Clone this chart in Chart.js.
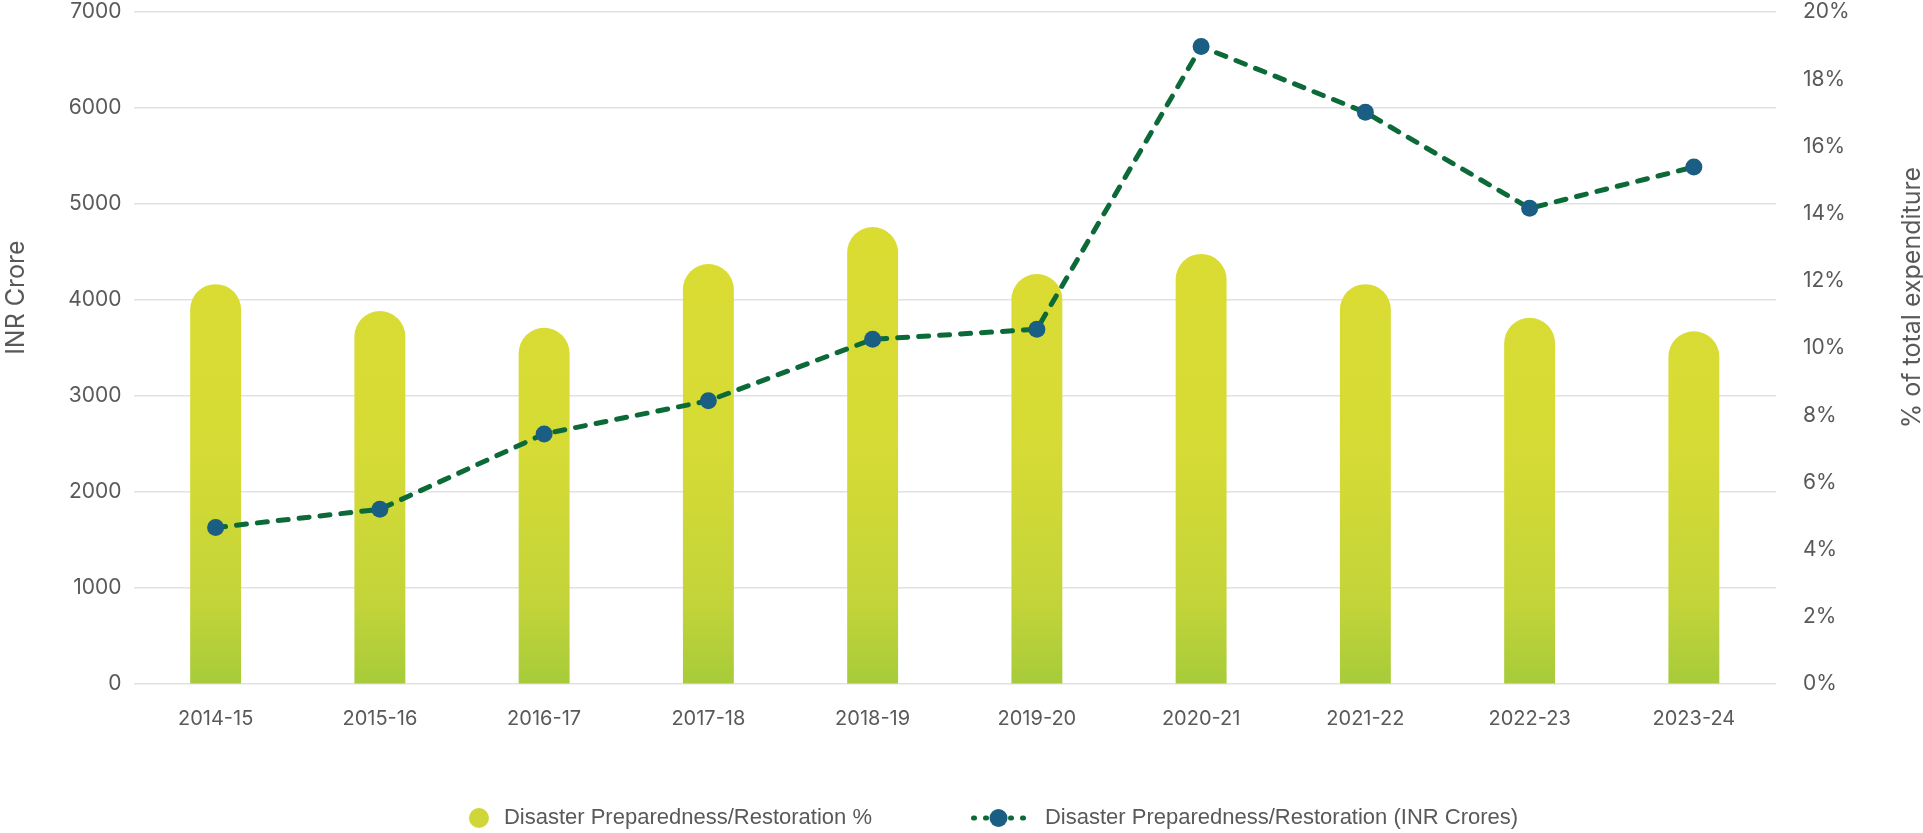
<!DOCTYPE html>
<html>
<head>
<meta charset="utf-8">
<title>Disaster Preparedness/Restoration</title>
<script src="https://cdn.jsdelivr.net/npm/chart.js@4.4.1/dist/chart.umd.min.js"></script>
<style>
  html, body { margin: 0; padding: 0; background: #ffffff; }
  #wrap { width: 1923px; height: 833px; position: relative; }
</style>
</head>
<body>
<div id="wrap"><canvas id="chart" width="1923" height="833"></canvas></div>
<script>
// Fiscal years on the category axis
const years = ['2014-15', '2015-16', '2016-17', '2017-18', '2018-19',
               '2019-20', '2020-21', '2021-22', '2022-23', '2023-24'];

// Share of total expenditure (%), drawn as bars on the right axis
const sharePct = [11.9, 11.1, 10.6, 12.5, 13.6, 12.2, 12.8, 11.9, 10.9, 10.5];

// Spending in INR crore, drawn as the dashed line on the left axis
const spendCrore = [1630, 1820, 2605, 2950, 3590, 3695, 6640, 5955, 4955, 5385];

// Axis ranges and tick steps
const croreAxis = { min: 0, max: 7000, step: 1000 };
const pctAxis = { min: 0, max: 20, step: 2 };

const seriesNames = ['Disaster Preparedness/Restoration %',
                     'Disaster Preparedness/Restoration (INR Crores)'];
const axisTitleLeft = 'INR Crore';
const axisTitleRight = '% of total expenditure';

const TEXT = '#595959';
const LINE_GREEN = '#0c6a39';
const DOT_BLUE = '#1b5e84';

// Vertical yellow-to-green fill shared by all bars
function barFill(context) {
  const chart = context.chart;
  const area = chart.chartArea;
  if (!area) return '#dcdc31';
  const g = chart.ctx.createLinearGradient(0, area.bottom, 0, area.top);
  g.addColorStop(0, '#a7cb3a');
  g.addColorStop(0.12, '#c3d439');
  g.addColorStop(0.35, '#d6db35');
  g.addColorStop(1, '#dfdd30');
  return g;
}

// Legend swatches painted on small canvases
const SWATCH_W = 152;
function makeSwatch(paint) {
  const c = document.createElement('canvas');
  c.width = SWATCH_W; c.height = 24;
  paint(c.getContext('2d'));
  return c;
}
const swatches = [
  makeSwatch(ctx => {
    ctx.fillStyle = '#cfd637';
    ctx.beginPath();
    ctx.arc(138, 12, 10, 0, Math.PI * 2);
    ctx.fill();
  }),
  makeSwatch(ctx => {
    ctx.strokeStyle = LINE_GREEN;
    ctx.lineWidth = 5;
    ctx.lineCap = 'round';
    [[91.5, 92.5], [103.5, 104.5], [128.5, 129.5], [140.5, 141.5]].forEach(([a, b]) => {
      ctx.beginPath(); ctx.moveTo(a, 12); ctx.lineTo(b, 12); ctx.stroke();
    });
    ctx.fillStyle = DOT_BLUE;
    ctx.beginPath();
    ctx.arc(116.5, 12, 9, 0, Math.PI * 2);
    ctx.fill();
  })
];

// Rotated axis titles placed beside each value axis
const axisTitles = {
  id: 'axisTitles',
  afterDraw(chart) {
    const { ctx, chartArea } = chart;
    const midY = chartArea.top + (chartArea.bottom - chartArea.top) * 0.425;
    ctx.save();
    ctx.font = '400 25px Inter';
    ctx.fillStyle = TEXT;
    ctx.textAlign = 'center';
    ctx.textBaseline = 'middle';
    [[16, axisTitleLeft], [chart.width - 11, axisTitleRight]].forEach(([x, t]) => {
      ctx.save();
      ctx.translate(x, midY);
      ctx.rotate(-Math.PI / 2);
      ctx.fillText(t, 0, 0);
      ctx.restore();
    });
    ctx.restore();
  }
};

// Slight offset of the legend row
const legendNudge = {
  id: 'legendNudge',
  afterLayout(chart) {
    const l = chart.legend;
    if (!l) return;
    l.left -= 32; l.right -= 32;
    l.top += 6; l.bottom += 6;
  }
};

const tickFont = { family: 'Inter', size: 20, weight: '400' };

// Value axes keep a fixed width and add no extra vertical padding
function fixVertical(width) {
  return scale => {
    scale.width = width;
    scale.paddingTop = 0;
    scale.paddingBottom = 0;
  };
}

new Chart(document.getElementById('chart'), {
  data: {
    labels: years,
    datasets: [
      {
        type: 'bar',
        label: seriesNames[0],
        data: sharePct,
        yAxisID: 'y1',
        backgroundColor: barFill,
        borderWidth: 0,
        borderRadius: { topLeft: 40, topRight: 40, bottomLeft: 0, bottomRight: 0 },
        borderSkipped: 'bottom',
        barPercentage: 0.31,
        categoryPercentage: 1,
        order: 2
      },
      {
        type: 'line',
        label: seriesNames[1],
        data: spendCrore,
        yAxisID: 'y',
        borderColor: LINE_GREEN,
        borderWidth: 5,
        borderDash: [10, 11],
        borderCapStyle: 'round',
        tension: 0,
        fill: false,
        pointRadius: 8.5,
        pointHoverRadius: 8.5,
        pointBackgroundColor: DOT_BLUE,
        pointBorderColor: DOT_BLUE,
        pointBorderWidth: 0,
        order: 1
      }
    ]
  },
  options: {
    responsive: false,
    animation: false,
    devicePixelRatio: 1,
    layout: { padding: { top: 12, left: 0, right: 0, bottom: 0 } },
    plugins: {
      tooltip: { enabled: false },
      legend: {
        position: 'bottom',
        labels: {
          usePointStyle: true,
          pointStyleWidth: SWATCH_W,
          padding: 10,
          color: TEXT,
          font: { family: 'Liberation Sans', size: 22 },
          generateLabels(chart) {
            return chart.data.datasets.map((ds, i) => ({
              text: ds.label,
              pointStyle: swatches[i],
              fillStyle: 'transparent',
              strokeStyle: 'transparent',
              lineWidth: 0,
              hidden: false,
              fontColor: TEXT,
              datasetIndex: i
            }));
          }
        }
      }
    },
    scales: {
      x: {
        grid: { display: false },
        border: { display: false },
        ticks: { color: TEXT, font: tickFont, padding: 15, maxRotation: 0 },
        afterFit(scale) { scale.height = 107; }
      },
      y: {
        position: 'left',
        min: croreAxis.min,
        max: croreAxis.max,
        ticks: {
          stepSize: croreAxis.step, color: TEXT, font: { family: 'Inter', size: 21 }, padding: 12,
          callback: v => String(v)
        },
        grid: { color: '#e2e2e2', lineWidth: 1.5, drawTicks: false },
        border: { display: false },
        afterFit: fixVertical(133.5)
      },
      y1: {
        position: 'right',
        min: pctAxis.min,
        max: pctAxis.max,
        ticks: {
          stepSize: pctAxis.step, color: TEXT, font: { family: 'Inter', size: 21 }, padding: 27,
          callback: v => v + '%'
        },
        grid: { drawOnChartArea: false, drawTicks: false },
        border: { display: false },
        afterFit: fixVertical(147)
      }
    }
  },
  plugins: [axisTitles, legendNudge]
});
</script>
</body>
</html>
